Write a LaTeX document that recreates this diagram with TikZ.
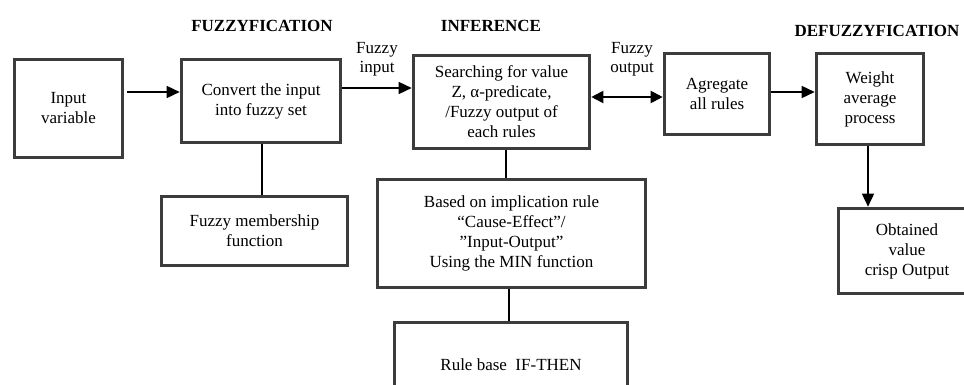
\documentclass[tikz,border=0pt]{standalone}
\usepackage{fontspec}
\setmainfont{Liberation Serif}
\usetikzlibrary{arrows.meta}
\definecolor{boxline}{HTML}{3C3C3C}
\tikzset{
  blk/.style={draw=boxline, line width=3.6pt, fill=white, align=center, inner sep=0pt,
    font=\fontsize{17}{20}\selectfont},
  lbl/.style={align=center, inner sep=0pt, font=\fontsize{17}{19}\selectfont},
  ttl/.style={inner sep=0pt, font=\fontsize{17}{18}\selectfont\bfseries},
  conn/.style={line width=1.5pt, black},
  arr/.style={conn, -{Triangle[length=13pt,width=12pt]}},
  darr/.style={conn, line width=2pt, {Triangle[length=12pt,width=12pt]}-{Triangle[length=12pt,width=12pt]}}
}
\begin{document}
\begin{tikzpicture}[x=1pt,y=-1pt]
\useasboundingbox (0,0) rectangle (964,385);
\clip (0,0) rectangle (964,385);
% titles
\node[ttl] (t1) at (262,26) {FUZZYFICATION};
\node[ttl] (t2) at (491,26) {INFERENCE};
\node[ttl] (t3) at (877,31) {DEFUZZYFICATION};
% boxes
\node[blk, minimum width=108pt, minimum height=98pt] (input) at (68.5,108.5) {Input\\variable};
\node[blk, minimum width=159pt, minimum height=83pt] (convert) at (261,101) {Convert the input\\into fuzzy set};
\node[blk, minimum width=176pt, minimum height=93pt] (search) at (501.5,102) {Searching for value\\Z, α-predicate,\\/Fuzzy output of\\each rules};
\node[blk, minimum width=105pt, minimum height=81pt] (agg) at (717,94) {Agregate\\all rules};
\node[blk, minimum width=107pt, minimum height=91pt] (weight) at (870,99) {Weight\\average\\process};
\node[blk, minimum width=137pt, minimum height=85pt] (obtained) at (907,251) {Obtained\\value\\crisp Output};
\node[blk, minimum width=186pt, minimum height=69pt] (member) at (254.5,231) {Fuzzy membership\\function};
\node[blk, minimum width=268pt, minimum height=108pt] (based) at (511.5,233.5) {Based on implication rule\\“Cause-Effect”/\\”Input-Output”\\Using the MIN function};
\node[blk, minimum width=233pt, minimum height=85pt] (rule) at (511,365) {Rule base\ \ IF-THEN};
% labels
\node[lbl] (lin) at (377,59) {Fuzzy\\input};
\node[lbl] (lout) at (632,59) {Fuzzy\\output};
% connectors
\draw[arr] ([xshift=3pt]input.east |- 0,92) -- (convert.west |- 0,92);
\draw[arr] (convert.east |- 0,88) -- (search.west |- 0,88);
\draw[darr] (search.east |- 0,97) -- (agg.west |- 0,97);
\draw[arr] (agg.east |- 0,92) -- (weight.west |- 0,92);
\draw[arr] (weight.south -| 868,0) -- (obtained.north -| 868,0);
\draw[conn] (convert.south -| 262,0) -- (member.north -| 262,0);
\draw[conn] (search.south -| 506,0) -- (based.north -| 506,0);
\draw[conn] (based.south -| 509,0) -- (rule.north -| 509,0);
\end{tikzpicture}
\end{document}
